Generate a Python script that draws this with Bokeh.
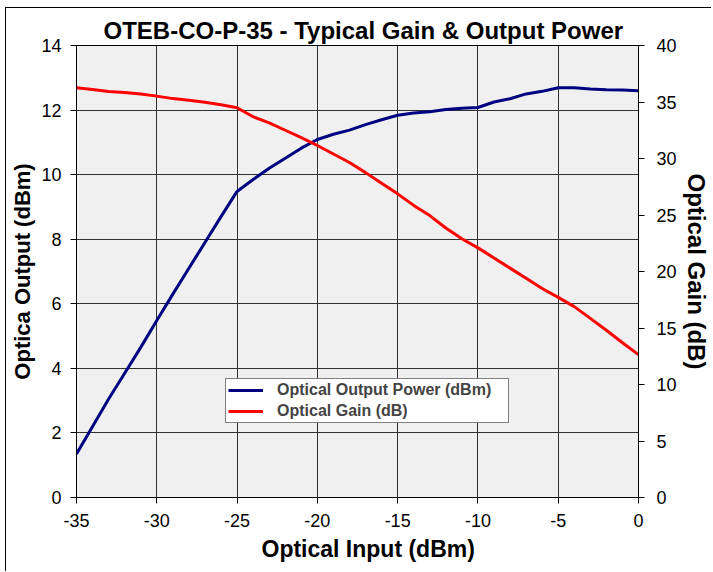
from bokeh.plotting import figure
from bokeh.models import Range1d, LinearAxis, FixedTicker, Legend, LegendItem, Title
from bokeh.embed import file_html
from bokeh.resources import INLINE

optical_input = list(range(-35, 1))
output_power = [1.35, 2.2, 3.05, 3.85, 4.65, 5.48, 6.3, 7.1, 7.9, 8.7,
                9.48, 9.85, 10.2, 10.51, 10.82, 11.09, 11.25, 11.38, 11.55, 11.70,
                11.84, 11.91, 11.95, 12.02, 12.06, 12.08, 12.25, 12.35, 12.5, 12.58,
                12.69, 12.69, 12.65, 12.63, 12.62, 12.60]
gain = [36.26, 36.1, 35.93, 35.85, 35.7, 35.52, 35.3, 35.15, 34.98, 34.75,
        34.49, 33.7, 33.15, 32.5, 31.85, 31.15, 30.4, 29.65, 28.75, 27.8,
        26.87, 25.85, 24.95, 23.85, 22.9, 22.09, 21.2, 20.3, 19.4, 18.5,
        17.71, 16.89, 15.85, 14.8, 13.7, 12.64]
x_ticks = [-35, -30, -25, -20, -15, -10, -5, 0]
x_tick_labels = ["-35", "-30", "-25", "-20", "-15", "-10", "-5", "0"]
left_ticks = [0, 2, 4, 6, 8, 10, 12, 14]
right_ticks = [0, 5, 10, 15, 20, 25, 30, 35, 40]

FONT = "Liberation Sans"

p = figure(width=706, height=564, output_backend="svg", toolbar_location=None,
           x_range=Range1d(-35, 0), y_range=Range1d(0, 14),
           min_border_left=70, min_border_right=71, min_border_top=37, min_border_bottom=75)
p.styles = {"border-top": "1px solid black", "border-left": "1px solid black",
            "margin-left": "5px", "margin-top": "7px"}
p.extra_y_ranges = {"gain": Range1d(0, 40)}

main_title = Title(text="OTEB-CO-P-35 - Typical Gain & Output Power", align="left",
                   offset=27, standoff=4, text_font=FONT, text_font_size="24px",
                   text_font_style="bold", text_color="black")
p.add_layout(main_title, "above")

p.background_fill_color = "#f0f0f0"
p.border_fill_color = "white"
p.outline_line_color = "black"
p.outline_line_width = 1

def style_axis(ax, ticks, title_size):
    ax.ticker = FixedTicker(ticks=ticks)
    ax.axis_line_color = "black"
    ax.major_tick_line_color = "black"
    ax.major_tick_out = 6
    ax.major_tick_in = 0
    ax.minor_tick_line_color = None
    ax.major_label_text_font = FONT
    ax.major_label_text_font_size = "18px"
    ax.major_label_text_color = "black"
    ax.axis_label_text_font = FONT
    ax.axis_label_text_font_size = title_size
    ax.axis_label_text_font_style = "bold"
    ax.axis_label_text_color = "black"

xa = p.xaxis[0]
style_axis(xa, x_ticks, "23px")
xa.major_label_overrides = dict(zip(x_ticks, x_tick_labels))
xa.major_label_standoff = 10

x_title = Title(text="Optical Input (dBm)", align="left", offset=185, standoff=9,
                text_font=FONT, text_font_size="23px", text_font_style="bold",
                text_color="black")
p.add_layout(x_title, "below")

ya = p.yaxis[0]
style_axis(ya, left_ticks, "22px")
ya.axis_label = "Optica Output (dBm)"
ya.major_label_standoff = 9
ya.axis_label_standoff = 3

ra = LinearAxis(y_range_name="gain")
style_axis(ra, right_ticks, "24px")
ra.axis_label = "Optical Gain (dB)"
ra.major_label_standoff = 12
ra.axis_label_standoff = 3
p.add_layout(ra, "right")

p.xgrid.ticker = FixedTicker(ticks=x_ticks)
p.ygrid.ticker = FixedTicker(ticks=left_ticks)
for g in (p.xgrid[0], p.ygrid[0]):
    g.grid_line_color = "#303030"
    g.grid_line_width = 1

r_out = p.line(optical_input, output_power, line_color="#000080", line_width=3)
r_gain = p.line(optical_input, gain, line_color="#ff0000", line_width=3, y_range_name="gain")

legend = Legend(items=[LegendItem(label="Optical Output Power (dBm)", renderers=[r_out]),
                       LegendItem(label="Optical Gain (dB)", renderers=[r_gain])],
                location=(149, 74))
legend.label_text_font = FONT
legend.label_text_font_size = "16px"
legend.label_text_font_style = "bold"
legend.border_line_color = "black"
legend.border_line_width = 1
legend.background_fill_color = "white"
legend.background_fill_alpha = 1
legend.padding = 2
legend.spacing = 3
legend.margin = 0
legend.glyph_width = 35
legend.glyph_height = 18
legend.label_height = 18
legend.label_width = 229
legend.label_standoff = 14
p.add_layout(legend, "center")

open("out.html", "w").write(file_html(p, INLINE))
